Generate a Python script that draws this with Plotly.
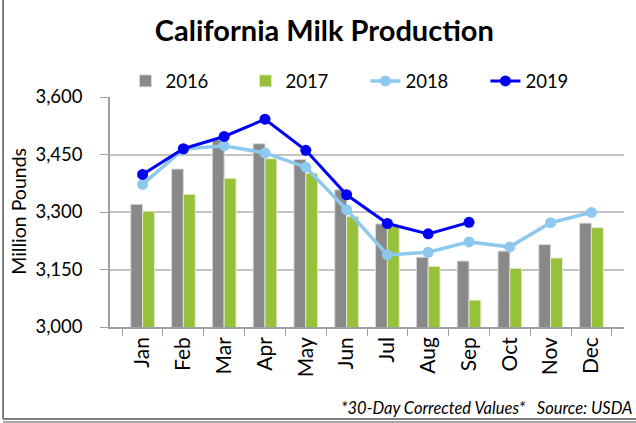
import plotly.graph_objects as go

months = ["Jan", "Feb", "Mar", "Apr", "May", "Jun", "Jul", "Aug", "Sep", "Oct", "Nov", "Dec"]
v2016 = [3320, 3412, 3488, 3478, 3437, 3358, 3269, 3182, 3172, 3198, 3215, 3271]
v2017 = [3302, 3346, 3388, 3439, 3401, 3288, 3262, 3158, 3070, 3153, 3180, 3259]
v2018 = [3372, 3464, 3473, 3454, 3417, 3306, 3188, 3195, 3222, 3209, 3272, 3299]
v2019 = [3398, 3465, 3497, 3542, 3461, 3345, 3270, 3243, 3273]
ytick_vals = [3000, 3150, 3300, 3450, 3600]
ytick_text = ["3,000", "3,150", "3,300", "3,450", "3,600"]

FONT = "Lato, 'Open Sans', sans-serif"

fig = go.Figure()
fig.add_trace(go.Bar(x=months, y=v2016, name="2016", marker=dict(color="#898989", line=dict(color="#d9d9d9", width=1))))
fig.add_trace(go.Bar(x=months, y=v2017, name="2017", marker=dict(color="#97C139", line=dict(color="#dfeacb", width=1))))
fig.add_trace(go.Scatter(x=months, y=v2018, name="2018", mode="lines+markers",
                         line=dict(color="#8DC9EF", width=3.5), marker=dict(size=11, color="#8DC9EF")))
fig.add_trace(go.Scatter(x=months[:len(v2019)], y=v2019, name="2019", mode="lines+markers",
                         line=dict(color="#0000F5", width=3), marker=dict(size=11, color="#0000F5")))

fig.update_layout(
    width=636, height=423,
    margin=dict(l=110, r=12, t=97, b=96, autoexpand=False),
    paper_bgcolor="white", plot_bgcolor="white",
    font=dict(family=FONT, color="black"),
    title=dict(text="<b>California Milk Production</b>", x=0.51, xanchor="center", y=1 - 31 / 423, yanchor="middle",
               font=dict(size=29, family=FONT, color="black")),
    barmode="group", bargap=0.42, bargroupgap=0,
    showlegend=True,
    legend=dict(orientation="h", x=0.03, xanchor="left", y=1.068, yanchor="middle",
                font=dict(size=18.5, family=FONT), entrywidth=75, itemwidth=30, traceorder="normal",
                bgcolor="rgba(0,0,0,0)"),
    xaxis=dict(tickangle=-90, tickfont=dict(size=21, family=FONT), showline=True, linecolor="#a0a0a0", linewidth=1.5,
               ticks="outside", tickson="boundaries", ticklen=7, tickcolor="#a0a0a0", showgrid=False,
               automargin=False),
    yaxis=dict(range=[3000, 3600], tickvals=ytick_vals, ticktext=ytick_text, tickfont=dict(size=18.5, family=FONT),
               showline=True, linecolor="#a0a0a0", linewidth=1.5, ticks="outside", ticklen=8, tickcolor="#a0a0a0",
               ticklabelstandoff=14,
               gridcolor="#c4c4c4", gridwidth=1.5, zeroline=False, automargin=False),
)

fig.add_annotation(text="Million Pounds", xref="paper", yref="paper", x=-0.178, y=0.503, textangle=-90,
                   xanchor="center", yanchor="middle", showarrow=False,
                   font=dict(size=19.5, family=FONT, color="black"))

fig.add_annotation(text="<i>*30-Day Corrected Values*&nbsp;&nbsp;&nbsp;Source: USDA</i>", xref="paper", yref="paper",
                   x=1.019, y=-0.35, xanchor="right", yanchor="middle", showarrow=False,
                   font=dict(size=16.5, family=FONT, color="black"))

# chart-area frame (left and bottom edges)
fig.add_shape(type="line", xref="paper", yref="paper", x0=-0.208, x1=-0.208, y0=-0.40, y1=1.5,
              line=dict(color="#555555", width=1.5))
fig.add_shape(type="line", xref="paper", yref="paper", x0=-0.208, x1=1.03, y0=-0.40, y1=-0.40,
              line=dict(color="#555555", width=1.5))
fig.add_shape(type="line", xref="paper", yref="paper", x0=-0.208, x1=1.03, y0=-0.413, y1=-0.413,
              line=dict(color="#888888", width=1.5))

fig.write_html("out.html", config={"responsive": False, "displayModeBar": False},
               post_script="document.body.style.margin='0';document.body.style.overflow='hidden';")
